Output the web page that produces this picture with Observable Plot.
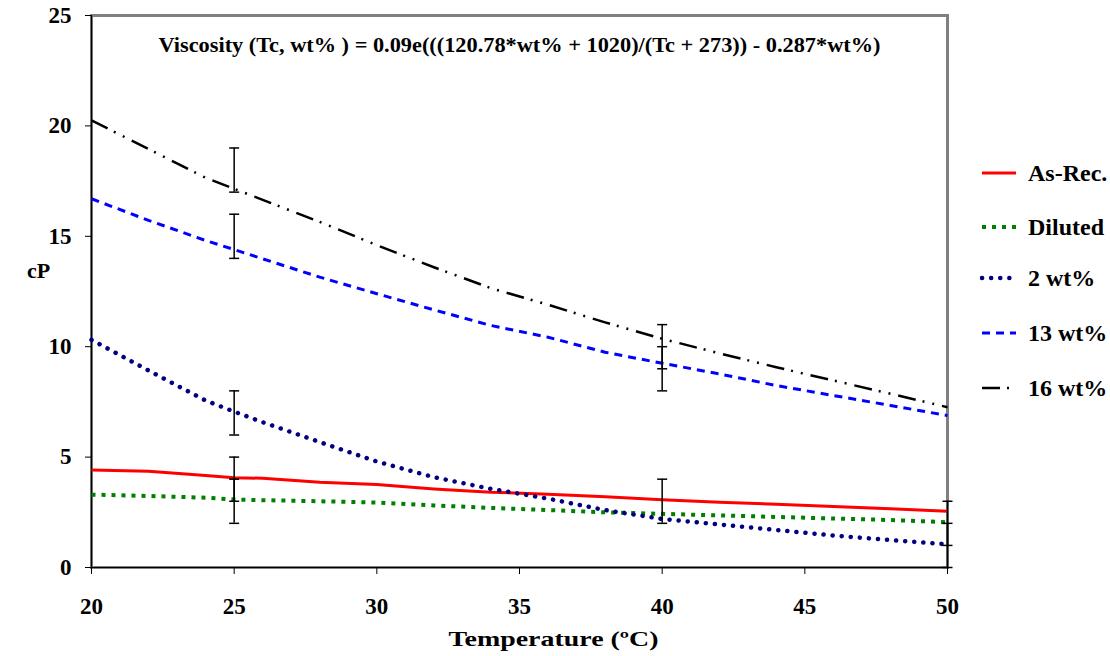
<!DOCTYPE html>
<html>
<head>
<meta charset="utf-8">
<script src="https://cdn.jsdelivr.net/npm/d3@7"></script>
<script src="https://cdn.jsdelivr.net/npm/@observablehq/plot@0.6"></script>
<style>
  html, body { margin: 0; padding: 0; background: #fff; }
  #wrap { position: relative; width: 1110px; height: 656px; font-family: "Liberation Serif", "Times New Roman", Times, serif; }
  #wrap svg text { font-family: "Liberation Serif", "Times New Roman", Times, serif; }
  #legend { position: absolute; left: 980px; top: 0; font-family: "Liberation Serif", "Times New Roman", Times, serif; font-weight: bold; font-size: 24px; color: #000; }
  .item { position: absolute; left: 0; display: flex; align-items: center; white-space: nowrap; }
  .item svg { width: 40px; height: 10px; margin-right: 8px; }
</style>
</head>
<body>
<div id="wrap"><div id="legend"></div></div>
<script>
// Temperatures (°C)
const temps = [20, 22, 24, 25, 26, 28, 30, 32, 34, 36, 38, 40, 42, 44, 46, 48, 50];
// Viscosity (cP) per series
const asRec   = [4.42, 4.36, 4.17, 4.07, 4.04, 3.86, 3.76, 3.56, 3.41, 3.32, 3.20, 3.07, 2.96, 2.87, 2.76, 2.66, 2.55];
const diluted = [3.30, 3.24, 3.16, 3.08, 3.05, 3.00, 2.94, 2.81, 2.70, 2.60, 2.50, 2.43, 2.36, 2.29, 2.22, 2.15, 2.05];
const wt2     = [10.31, 8.92, 7.56, 7.06, 6.58, 5.68, 4.80, 4.09, 3.56, 3.12, 2.60, 2.20, 1.95, 1.70, 1.45, 1.24, 1.05];
const wt13    = [16.70, 15.72, 14.81, 14.40, 13.98, 13.15, 12.40, 11.67, 10.96, 10.43, 9.75, 9.25, 8.77, 8.24, 7.79, 7.34, 6.88];
const wt16    = [20.25, 18.95, 17.65, 17.15, 16.65, 15.65, 14.60, 13.60, 12.65, 11.90, 11.10, 10.36, 9.70, 9.07, 8.47, 7.87, 7.26];

const seriesNames = ["As-Rec.", "Diluted", "2 wt%", "13 wt%", "16 wt%"];
const seriesValues = [asRec, diluted, wt2, wt13, wt16];

// Error bars: temperature, low, high
const errT    = [25, 25, 25, 25, 25, 40, 40, 40, 50, 50];
const errLow  = [17, 14, 6, 3, 2, 9, 8, 2, 1, 0];
const errHigh = [19, 16, 8, 5, 4, 11, 10, 4, 3, 2];

const xTicks = [20, 25, 30, 35, 40, 45, 50];
const yTicks = [0, 5, 10, 15, 20, 25];

const titleText = "Viscosity (Tc, wt% ) = 0.09e(((120.78*wt% + 1020)/(Tc + 273)) - 0.287*wt%)";
const xLabel = "Temperature (ºC)";
const yLabel = "cP";

const FONT = "'Liberation Serif', 'Times New Roman', Times, serif";

const styles = {
  "As-Rec.": {stroke: "#ff0000", strokeWidth: 3, strokeDasharray: null, strokeLinecap: "butt"},
  "Diluted": {stroke: "#008000", strokeWidth: 4, strokeDasharray: "4,6", strokeLinecap: "butt"},
  "2 wt%":   {stroke: "#000080", strokeWidth: 4.5, strokeDasharray: "0.1,9", strokeLinecap: "round"},
  "13 wt%":  {stroke: "#0000ff", strokeWidth: 3, strokeDasharray: "8,6", strokeLinecap: "butt"},
  "16 wt%":  {stroke: "#000000", strokeWidth: 2.5, strokeDasharray: "18,7,2,8,2,8", strokeLinecap: "butt"}
};

const rows = [];
seriesNames.forEach((name, i) => temps.forEach((t, j) => rows.push({series: name, t, v: seriesValues[i][j]})));
const errRows = errT.map((t, i) => ({t, lo: errLow[i], hi: errHigh[i]}));

const capSymbol = {
  draw(ctx, size) {
    const r = Math.sqrt(size / Math.PI);
    ctx.moveTo(-r, 0);
    ctx.lineTo(r, 0);
  }
};

const lineMarks = seriesNames.map(name => {
  const s = styles[name];
  return Plot.line(rows.filter(d => d.series === name), {
    x: "t", y: "v", curve: "linear",
    stroke: s.stroke, strokeWidth: s.strokeWidth,
    strokeDasharray: s.strokeDasharray, strokeLinecap: s.strokeLinecap
  });
});

const chart = Plot.plot({
  width: 1110,
  height: 656,
  marginLeft: 91,
  marginRight: 163,
  marginTop: 15,
  marginBottom: 89,
  style: {fontFamily: FONT, fontWeight: "bold", fontSize: "23px", color: "#000", background: "#fff", overflow: "visible"},
  x: {domain: [20, 50], ticks: xTicks},
  y: {domain: [0, 25], ticks: yTicks},
  marks: [
    Plot.frame({stroke: "#808080", strokeWidth: 3}),
    Plot.axisX({ticks: xTicks, tickSize: 7, tickPadding: 23, label: null, fontSize: 23, fontWeight: "bold", fontFamily: FONT, stroke: "#000"}),
    Plot.axisY({ticks: yTicks, tickSize: 6, tickPadding: 14, label: null, fontSize: 23, fontWeight: "bold", fontFamily: FONT, stroke: "#000"}),
    Plot.ruleX([20], {stroke: "#000", strokeWidth: 1.2}),
    Plot.ruleY([0], {stroke: "#000", strokeWidth: 1.2}),
    ...lineMarks,
    Plot.ruleX(errRows, {x: "t", y1: "lo", y2: "hi", stroke: "#000", strokeWidth: 1.5}),
    Plot.dot(errRows, {x: "t", y: "lo", symbol: capSymbol, r: 5, stroke: "#000", strokeWidth: 1.5, fill: "none"}),
    Plot.dot(errRows, {x: "t", y: "hi", symbol: capSymbol, r: 5, stroke: "#000", strokeWidth: 1.5, fill: "none"}),
    Plot.text([titleText], {frameAnchor: "top", lineAnchor: "middle", dy: 30, fontSize: 20, fontWeight: "bold", fontFamily: FONT, fill: "#000", className: "title-text"}),
    Plot.text([xLabel], {frameAnchor: "bottom", lineAnchor: "middle", dx: 34, dy: 72, fontSize: 21, fontWeight: "bold", fontFamily: FONT, fill: "#000", className: "xlabel-text"}),
    Plot.text([yLabel], {frameAnchor: "left", lineAnchor: "middle", dx: -53, dy: -21, textAnchor: "middle", fontSize: 22, fontWeight: "bold", fontFamily: FONT, fill: "#000"})
  ]
});

// Fit title and x-label widths to the reference
d3.select(chart).selectAll(".title-text text").attr("textLength", 722).attr("lengthAdjust", "spacingAndGlyphs");
d3.select(chart).selectAll(".xlabel-text text").attr("textLength", 210).attr("lengthAdjust", "spacingAndGlyphs");

const wrap = document.getElementById("wrap");
wrap.insertBefore(chart, wrap.firstChild);

// Legend
const legendY = [173, 227, 278, 333, 388];
const legend = document.getElementById("legend");
seriesNames.forEach((name, i) => {
  const s = styles[name];
  const item = document.createElement("div");
  item.className = "item";
  item.style.top = (legendY[i] - 12) + "px";
  item.style.height = "24px";
  const dash = s.strokeDasharray ? `stroke-dasharray="${s.strokeDasharray}"` : "";
  item.innerHTML = `<svg viewBox="0 0 40 10"><line x1="2" y1="5" x2="36" y2="5" stroke="${s.stroke}" stroke-width="${s.strokeWidth}" ${dash} stroke-linecap="${s.strokeLinecap}"/></svg><span>${name}</span>`;
  legend.appendChild(item);
});
</script>
</body>
</html>
